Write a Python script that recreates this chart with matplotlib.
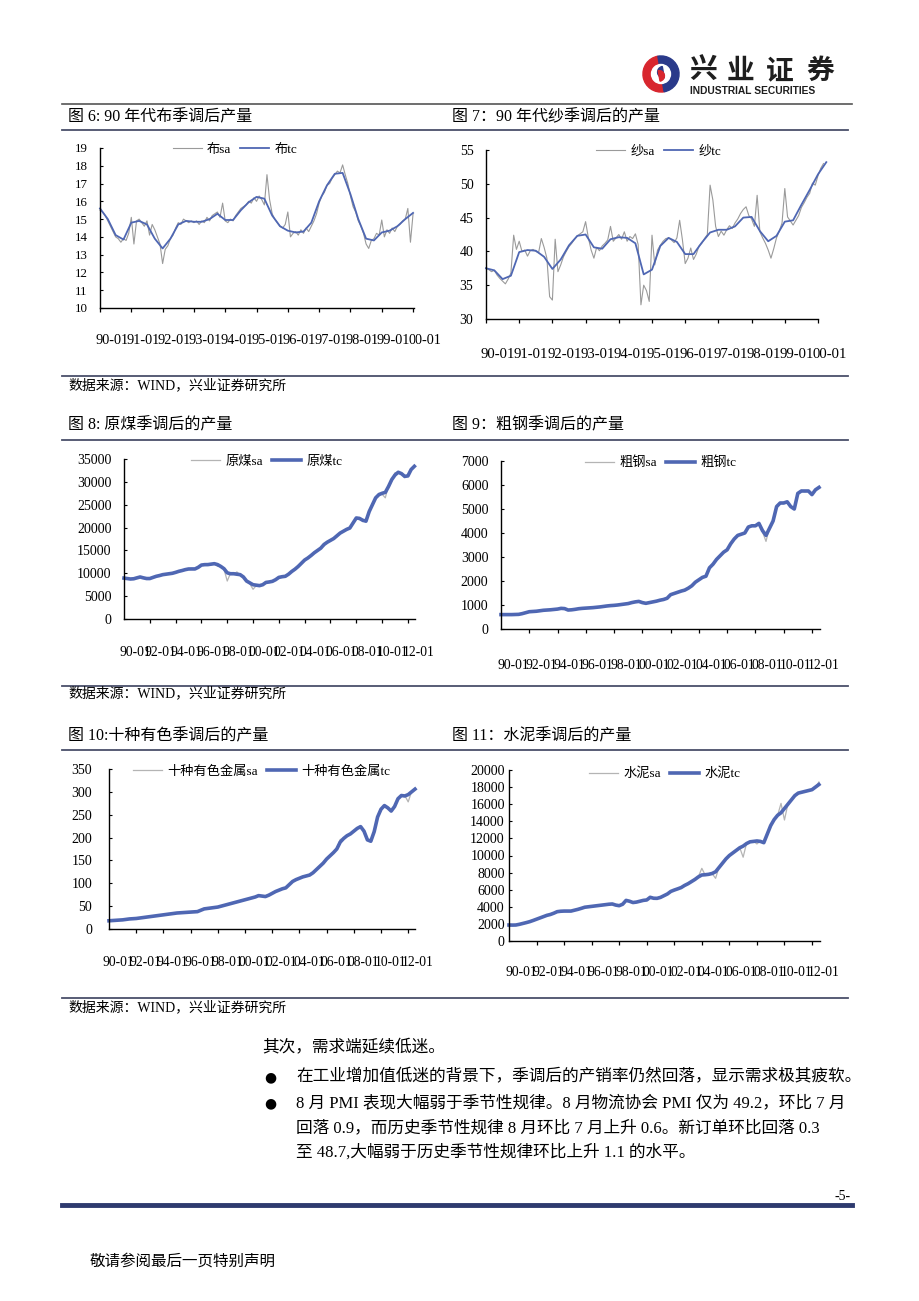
import numpy as np
import matplotlib
matplotlib.use("Agg")
import matplotlib.pyplot as plt
from matplotlib.patches import Wedge, Circle
from matplotlib.lines import Line2D

plt.rcParams['font.family'] = ['Liberation Serif', 'Noto Sans CJK SC']

W, H = 920, 1301
BLUE = '#4f67b3'
GRAY = '#9a9a9a'
LINE_C = '#4a4f6a'

# ---- data: fig 6, cloth, 1990-01 .. 2000-01 (sa monthly, tc quarterly)
cloth_sa = [15.5, 15.4, 15.2, 14.9, 14.6, 14.3, 14.0, 13.9, 13.7, 13.9, 13.8, 14.2,
            15.1, 13.6, 14.9, 15.0, 14.8, 14.6, 14.9, 14.1, 14.7, 14.4, 14.0, 13.6,
            12.5, 13.3, 13.5, 13.9, 14.1, 14.5, 14.8, 14.7, 15.0, 14.9, 14.8, 14.9,
            14.8, 14.9, 14.7, 14.9, 14.8, 15.1, 14.9, 15.2, 15.3, 15.4, 15.1, 15.9,
            14.9, 14.8, 15.0, 14.9, 15.2, 15.4, 15.6, 15.7, 15.8, 16.0, 15.9, 16.2,
            16.0, 16.3, 16.1, 15.8, 17.5, 16.1, 15.3, 15.0, 14.8, 14.6, 14.5, 14.7,
            15.4, 14.0, 14.2, 14.3, 14.1, 14.4, 14.2, 14.5, 14.3, 14.6, 14.9, 15.3,
            15.9, 16.3, 16.5, 16.9, 17.0, 17.3, 17.5, 17.7, 17.6, 18.05, 17.5, 17.0,
            16.3, 15.7, 15.4, 14.9, 14.6, 14.2, 13.6, 13.35, 13.8, 13.9, 14.2, 14.1,
            14.95, 14.0, 14.4, 14.2, 14.5, 14.3, 14.6, 14.7, 14.9, 15.0, 15.6, 13.7,
            15.3]
cloth_tc = [15.6, 15.0, 14.1, 13.85, 14.8, 14.9, 14.7, 13.9, 13.35, 13.9, 14.7, 14.9,
            14.85, 14.85, 15.0, 15.3, 14.95, 14.95, 15.5, 15.95, 16.25, 16.15, 15.2, 14.6,
            14.35, 14.25, 14.3, 14.8, 16.0, 16.9, 17.55, 17.6, 16.4, 15.0, 13.9, 13.8,
            14.25, 14.35, 14.6, 15.0, 15.35]

# ---- fig 7, yarn
yarn_sa = [37.6, 37.3, 37.0, 37.2, 36.5, 36.0, 35.6, 35.2, 35.9, 36.8, 42.4, 40.3,
           41.5, 40.0, 40.2, 39.3, 40.1, 40.3, 40.0, 39.8, 41.9, 40.6, 39.0, 33.3,
           32.8, 41.8, 37.0, 38.0, 39.2, 40.0, 40.7, 41.2, 41.8, 42.3, 42.6, 42.9,
           44.4, 42.0, 40.2, 39.0, 40.6, 40.1, 40.8, 41.2, 41.7, 43.7, 41.5, 42.0,
           42.5, 41.8, 42.9, 41.5, 42.2, 41.9, 42.6, 41.0, 32.1, 35.0, 34.2, 32.6,
           42.4, 38.0, 40.2, 40.9, 41.5, 41.9, 42.0, 41.7, 41.3, 42.0, 44.6, 41.7,
           38.2, 39.0, 40.5, 38.8, 39.6, 40.8, 41.2, 41.9, 42.5, 49.8, 47.6, 43.7,
           42.2, 43.0, 42.4, 43.2, 43.8, 43.4, 44.2, 44.8, 45.6, 46.2, 46.6, 45.3,
           44.8, 43.7, 48.3, 42.9, 42.0, 41.2, 40.2, 39.0, 40.4, 42.0, 43.0, 44.2,
           49.3, 45.1, 44.5, 43.9, 44.6, 45.3, 46.5, 47.2, 48.0, 48.6, 50.1, 49.8,
           51.2, 52.3, 53.0]
yarn_tc = [37.5, 37.2, 35.9, 36.4, 39.9, 40.2, 40.1, 39.2, 37.4, 38.8, 40.9, 42.3,
           42.5, 40.6, 40.4, 41.8, 42.1, 42.0, 41.2, 36.6, 37.3, 40.8, 42.0, 41.4,
           39.6, 39.6, 41.3, 42.8, 43.2, 43.2, 43.7, 45.0, 45.1, 43.0, 41.5, 42.3,
           44.4, 44.6, 46.9, 49.1, 51.4, 53.2]

# ---- fig 8-11, quarterly 1990Q1 .. 2012Q3
coal_sa = [8900, 8700, 8800, 8900, 8950, 9300, 8900, 8800, 8900, 9200, 9300, 9600,
           9600, 9900, 9800, 10100, 10300, 10400, 10700, 10700, 11000, 10900, 11000, 11200,
           11900, 11800, 12000, 11900, 12200, 11500, 11700, 10900, 8300, 10000, 9800, 10300,
           9600, 9000, 8400, 7700, 6500, 7300, 7400, 7400, 8100, 8000, 8300, 8500,
           9000, 9300, 9200, 9900, 10300, 11000, 11400, 12300, 12800, 13500, 13700, 14600,
           14900, 15700, 16000, 16900, 17100, 17800, 18000, 18900, 19000, 19800, 19700, 21300,
           22000, 22200, 21300, 21600, 23200, 25300, 26300, 27500, 27300, 26500, 29300, 30200,
           32000, 31900, 32000, 30900, 31600, 32500, 33600]
coal_tc = [8950, 8850, 8750, 8800, 9000, 9190, 9000, 8850, 8850, 9100, 9340, 9500,
           9700, 9800, 9900, 10000, 10200, 10430, 10600, 10800, 10940, 10950, 10950, 11300,
           11800, 11890, 11900, 12000, 12100, 11900, 11500, 11000, 10100, 9900, 9900, 9800,
           9700, 9200, 8300, 7900, 7500, 7400, 7300, 7500, 8000, 8100, 8240, 8600,
           9100, 9250, 9340, 9800, 10400, 10900, 11500, 12200, 12900, 13350, 13900, 14500,
           15000, 15500, 16300, 16800, 17200, 17600, 18200, 18800, 19200, 19600, 19900, 21000,
           22100, 22000, 21600, 21400, 23500, 25000, 26500, 27200, 27500, 27700, 29000, 30500,
           31500, 32100, 31800, 31200, 31300, 32700, 33400]

steel_sa = [610, 590, 605, 595, 600, 620, 630, 690, 710, 740, 735, 770,
            770, 800, 795, 820, 825, 870, 840, 780, 810, 815, 850, 855,
            875, 875, 895, 900, 925, 935, 965, 970, 990, 995, 1030, 1035,
            1050, 1110, 1120, 1160, 1090, 1080, 1090, 1140, 1150, 1210, 1220, 1290,
            1420, 1490, 1520, 1590, 1610, 1720, 1780, 1970, 2040, 2170, 2180, 2570,
            2680, 2930, 3030, 3230, 3280, 3570, 3730, 3920, 3930, 4030, 4230, 4320,
            4280, 4430, 4050, 3650, 4250, 4480, 5150, 5220, 5280, 5270, 5080, 5030,
            5620, 5780, 5720, 5770, 5580, 5820, 5880]
steel_tc = [600, 600, 600, 600, 605, 610, 640, 680, 720, 730, 740, 760,
            780, 790, 800, 815, 830, 860, 850, 790, 800, 820, 845, 860,
            870, 880, 890, 905, 920, 940, 960, 975, 985, 1000, 1020, 1040,
            1060, 1100, 1130, 1150, 1100, 1070, 1100, 1130, 1160, 1200, 1230, 1280,
            1430, 1480, 1530, 1580, 1620, 1700, 1800, 1950, 2050, 2150, 2200, 2550,
            2700, 2900, 3050, 3200, 3300, 3550, 3750, 3900, 3950, 4000, 4250, 4300,
            4300, 4400, 4100, 3900, 4200, 4500, 5100, 5250, 5250, 5300, 5100, 5000,
            5650, 5750, 5750, 5750, 5600, 5800, 5900]

metal_sa = [18, 18.5, 19.5, 19, 20.5, 21, 22, 23, 22.5, 24.5, 25, 26.5,
            27, 28.5, 29, 30.5, 31, 32.5, 33, 34.5, 35, 36, 35.5, 37,
            37, 38, 38, 41.5, 43.5, 45.5, 46, 47.5, 48, 50.5, 52, 54.5,
            55.5, 58.5, 60, 62.5, 63.5, 66.5, 68, 70.5, 73.5, 71.5, 71, 74.5,
            77.5, 82.5, 85, 88.5, 89.5, 97.5, 104, 108.5, 110.5, 114.5, 116, 118.5,
            122.5, 130.5, 137, 146, 152, 161, 166, 176, 196, 197, 205, 207,
            215, 219, 225, 212, 194, 193, 212, 247, 261, 271, 264, 259,
            267, 286, 291, 292, 278, 301, 307]
metal_tc = [18, 18.5, 19, 19.5, 20, 21, 22, 22.5, 23, 24, 25, 26,
            27, 28, 29, 30, 31, 32, 33, 34, 35, 35.5, 36, 36.5,
            37, 37.5, 38, 41, 44, 45, 46, 47, 48, 50, 52, 54,
            56, 58, 60, 62, 64, 66, 68, 70, 73, 72, 71, 74,
            78, 82, 85, 88, 90, 97, 104, 108, 111, 114, 116, 118,
            123, 130, 137, 144, 153, 160, 167, 175, 190, 198, 204, 208,
            214, 220, 224, 214, 195, 192, 213, 245, 262, 270, 265, 258,
            268, 285, 292, 291, 294, 300, 306]

cement_sa = [1700, 1900, 1860, 1980, 2030, 2180, 2250, 2420, 2530, 2730, 2840, 3020,
             3080, 3280, 3420, 3500, 3480, 3520, 3490, 3620, 3680, 3850, 3930, 4030,
             4030, 4120, 4140, 4220, 4230, 4320, 4320, 4180, 4100, 4350, 4820, 4600,
             4480, 4580, 4620, 4780, 4780, 5200, 4950, 5000, 5080, 5330, 5480, 5830,
             5930, 6130, 6230, 6530, 6680, 6980, 7180, 7530, 8500, 7700, 7830, 7880,
             7330, 8650, 9080, 9630, 9980, 10330, 10580, 10930, 9800, 11450, 11580, 11680,
             11350, 11700, 11480, 12530, 13480, 14230, 14680, 16100, 14150, 16030, 16480, 17030,
             17280, 17430, 17480, 17630, 17680, 17980, 18600]
cement_tc = [1870, 1860, 1870, 1950, 2050, 2150, 2260, 2400, 2550, 2700, 2850, 3000,
             3100, 3250, 3430, 3480, 3500, 3500, 3500, 3600, 3700, 3820, 3950, 4000,
             4050, 4100, 4150, 4200, 4250, 4300, 4330, 4200, 4130, 4300, 4750, 4650,
             4500, 4550, 4650, 4750, 4800, 5110, 5000, 4990, 5100, 5300, 5500, 5800,
             5960, 6100, 6250, 6500, 6700, 6950, 7200, 7500, 7720, 7750, 7800, 7900,
             8100, 8600, 9100, 9600, 10000, 10300, 10600, 10900, 11100, 11400, 11600, 11650,
             11700, 11650, 11500, 12500, 13500, 14200, 14700, 15000, 15500, 16000, 16500, 17000,
             17300, 17400, 17500, 17600, 17700, 18000, 18300]

labels_90s = ['90-01', '91-01', '92-01', '93-01', '94-01', '95-01', '96-01',
              '97-01', '98-01', '99-01', '00-01']
years_90s = [1990, 1991, 1992, 1993, 1994, 1995, 1996, 1997, 1998, 1999, 2000]
labels_long = ['90-01', '92-01', '94-01', '96-01', '98-01', '00-01', '02-01',
               '04-01', '06-01', '08-01', '10-01', '12-01']
years_long = [1990, 1992, 1994, 1996, 1998, 2000, 2002, 2004, 2006, 2008, 2010, 2012]


def fx(x):
    return x / W


def fy(y):
    return 1 - y / H


fig = plt.figure(figsize=(9.2, 13.01), dpi=100)


def ptext(x, y, s, size=11.5, ha='left', va='center', **kw):
    fig.text(fx(x), fy(y), s, fontsize=size, ha=ha, va=va, **kw)


def hline(y, x0, x1, lw=1.3, color=LINE_C):
    fig.add_artist(Line2D([fx(x0), fx(x1)], [fy(y), fy(y)],
                          transform=fig.transFigure, lw=lw, color=color))


def chart(box, sa, tc, step_sa, step_tc, names, yticks, xlim, ticks, years, labels,
          loff, ly, leg_x, leg_y, tc_lw, sa_lw, ypad, ysize=9.3, xsize=9.3, sa_color=GRAY):
    left, right, top, bottom = box
    ax = fig.add_axes([fx(left), fy(bottom), (right - left) / W, (bottom - top) / H])
    xs = 1990 + step_sa * np.arange(len(sa))
    xt = 1990 + step_tc * np.arange(len(tc))
    ax.plot(xs, sa, color=sa_color, lw=sa_lw, clip_on=False, label=names[0])
    ax.plot(xt, tc, color=BLUE, lw=tc_lw, clip_on=False, label=names[1])
    ax.set_xlim(*xlim)
    ax.set_ylim(yticks[0], yticks[-1])
    ax.set_yticks(yticks)
    ax.set_yticklabels([str(v) for v in yticks])
    ax.set_xticks(ticks)
    ax.set_xticklabels([])
    for s in ['top', 'right']:
        ax.spines[s].set_visible(False)
    for s in ['left', 'bottom']:
        ax.spines[s].set_linewidth(1.0)
    ax.tick_params(axis='x', direction='out', length=3, width=0.9)
    ax.tick_params(axis='y', direction='in', length=2, width=0.8, pad=ypad, labelsize=ysize)
    for yr, lab in zip(years, labels):
        ax.text(yr + loff, ly, lab, transform=ax.get_xaxis_transform(),
                ha='center', va='center', fontsize=xsize, clip_on=False)
    ax.legend(loc='upper center', bbox_to_anchor=(leg_x, leg_y), ncol=2, frameon=False,
              fontsize=9.5, handlelength=2.2, handletextpad=0.4, columnspacing=0.7,
              borderaxespad=0, borderpad=0.2)
    return ax


# ---- header / logo
lax = fig.add_axes([fx(642), fy(93), 38 / W, 38 / H])
lax.set_xlim(-1, 1)
lax.set_ylim(-1, 1)
lax.set_aspect('equal')
lax.axis('off')
lax.add_patch(Wedge((0, 0), 0.95, 100, 280, color='#d8262e'))
lax.add_patch(Wedge((0, 0), 0.95, -80, 100, color='#2a3a8a'))
lax.add_patch(Circle((0, 0), 0.5, color='white'))
lax.add_patch(Wedge((0.12, 0.1), 0.3, 100, 280, color='#2a3a8a'))
lax.add_patch(Wedge((-0.1, -0.1), 0.28, -80, 100, color='#d8262e'))
for cx, ch in zip([703, 741, 780, 820], ['兴', '业', '证', '券']):
    ptext(cx, 71, ch, size=20, ha='center', weight='bold', color='#1e1e1e',
          family=['Noto Sans CJK SC'])
ptext(690, 91, 'INDUSTRIAL SECURITIES', size=7.4, weight='bold', color='#1e1e1e',
      family=['Liberation Sans'])
hline(104, 62, 852, lw=1.2, color='#555555')

# ---- row 1
ptext(68, 117, '图 6: 90 年代布季调后产量')
ptext(452, 117, '图 7：90 年代纱季调后的产量')
hline(130, 62, 848)
chart((100, 414, 148, 308), cloth_sa, cloth_tc, 1 / 12, 0.25, ['布sa', '布tc'],
      list(range(10, 20)), (1990, 2000.03), years_90s, years_90s, labels_90s,
      0.37, -0.2, 0.43, 1.044, 1.3, 0.8, 9, xsize=10.3)
chart((486, 818, 150, 319), yarn_sa, yarn_tc, 1 / 12, 0.25, ['纱sa', '纱tc'],
      [30, 35, 40, 45, 50, 55], (1990, 2000), years_90s, years_90s, labels_90s,
      0.36, -0.213, 0.52, 1.041, 1.3, 0.8, 9, ysize=10, xsize=10.6)
hline(376, 62, 848)
ptext(68, 385, '数据来源：WIND，兴业证券研究所', size=10)

# ---- row 2
ptext(68, 425, '图 8: 原煤季调后的产量')
ptext(452, 425, '图 9：粗钢季调后的产量')
hline(440, 62, 848)
chart((124, 415, 459, 619), coal_sa, coal_tc, 0.25, 0.25, ['原煤sa', '原煤tc'],
      list(range(0, 35001, 5000)), (1990, 2012.55), years_long[1:], years_long, labels_long,
      0.85, -0.2125, 0.49, 1.0375, 2.6, 0.9, 9, ysize=10, xsize=9.8, sa_color='#b4b4b4')
chart((501, 820, 461, 629), steel_sa, steel_tc, 0.25, 0.25, ['粗钢sa', '粗钢tc'],
      list(range(0, 7001, 1000)), (1990, 2012.57), years_long[1:], years_long, labels_long,
      0.85, -0.22, 0.50, 1.042, 2.6, 0.9, 9, ysize=10, xsize=9.8, sa_color='#b4b4b4')
hline(686, 62, 848)
ptext(68, 693, '数据来源：WIND，兴业证券研究所', size=10)

# ---- row 3
ptext(68, 736, '图 10:十种有色季调后的产量')
ptext(452, 736, '图 11：水泥季调后的产量')
hline(750, 62, 848)
chart((109, 415, 769, 929), metal_sa, metal_tc, 0.25, 0.25, ['十种有色金属sa', '十种有色金属tc'],
      list(range(0, 351, 50)), (1990, 2012.5), years_long[1:], years_long, labels_long,
      0.7, -0.2125, 0.50, 1.0375, 2.6, 0.9, 12, ysize=10, xsize=9.8, sa_color='#b4b4b4')
chart((509, 820, 770, 941), cement_sa, cement_tc, 0.25, 0.25, ['水泥sa', '水泥tc'],
      list(range(0, 20001, 2000)), (1990, 2012.58), years_long[1:], years_long, labels_long,
      0.87, -0.187, 0.50, 1.03, 2.6, 0.9, 3, ysize=10, xsize=9.8, sa_color='#b4b4b4')
hline(998, 62, 848)
ptext(68, 1007, '数据来源：WIND，兴业证券研究所', size=10)

# ---- body text
ptext(262, 1048, '其次，需求端延续低迷。', size=12)
ptext(270, 1077, '●', size=10, ha='center', family=['DejaVu Sans'])
ptext(296, 1077, '在工业增加值低迷的背景下，季调后的产销率仍然回落，显示需求极其疲软。', size=12)
ptext(270, 1103, '●', size=10, ha='center', family=['DejaVu Sans'])
ptext(296, 1103, '8 月 PMI 表现大幅弱于季节性规律。8 月物流协会 PMI 仅为 49.2，环比 7 月', size=12)
ptext(296, 1128, '回落 0.9，而历史季节性规律 8 月环比 7 月上升 0.6。新订单环比回落 0.3', size=12)
ptext(296, 1152, '至 48.7,大幅弱于历史季节性规律环比上升 1.1 的水平。', size=12)

# ---- footer
ptext(843, 1196, '-5-', size=10, ha='center')
hline(1205, 62, 852, lw=3.5, color='#2e3a6e')
ptext(90, 1262, '敬请参阅最后一页特别声明', size=11.2)

fig.savefig('out.png', dpi=100)
